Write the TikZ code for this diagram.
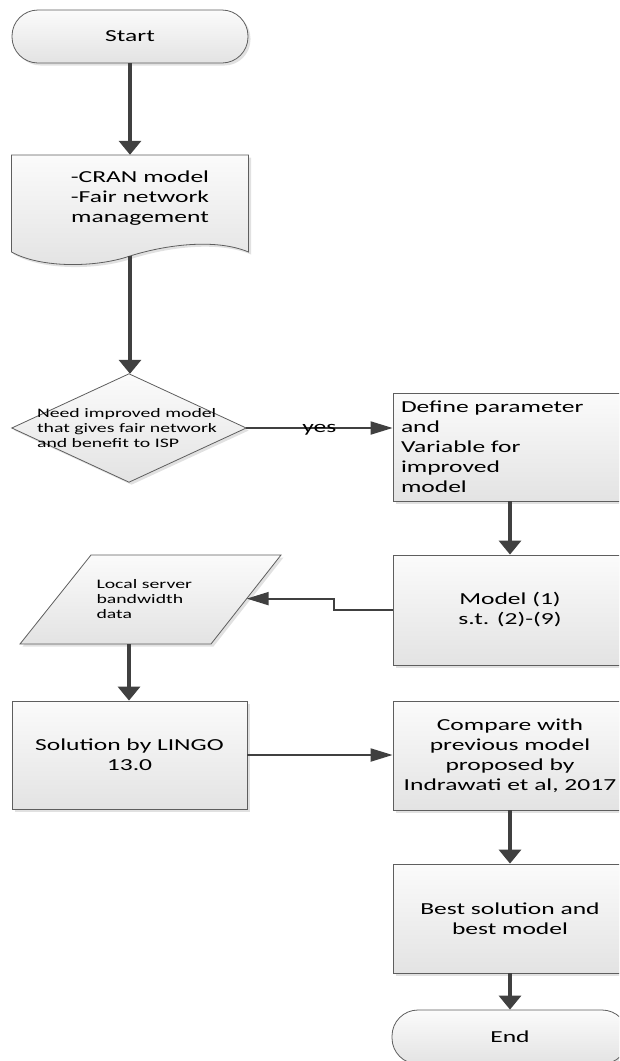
\documentclass[tikz,border=0pt]{standalone}
\usepackage{fontspec}
\setmainfont{Carlito}[FakeStretch=1.52]
\usetikzlibrary{arrows.meta,shadows,calc}
\definecolor{arr}{HTML}{404040}
\definecolor{edgec}{HTML}{5E5E5E}
\definecolor{ftop}{HTML}{FBFBFB}
\definecolor{fbot}{HTML}{E3E3E3}
\definecolor{shd}{HTML}{C4C4C4}
\newcommand\fmain{\fontsize{16.8}{20}\selectfont}
\newcommand\fsmall{\fontsize{13}{15}\selectfont}
\tikzset{
  shapestyle/.style={draw=edgec, line width=0.8pt, top color=ftop, bottom color=fbot,
    drop shadow={shadow xshift=2.5pt, shadow yshift=-2.5pt, fill=shd}},
  boxstyle/.style={shapestyle, rectangle, minimum width=234pt, minimum height=108pt,
    inner sep=2pt, align=center, font=\fmain},
  termstyle/.style={shapestyle, rectangle, rounded corners=26pt, minimum width=236pt,
    minimum height=53pt, font=\fmain},
  varr/.style={draw=arr, line width=3.3pt, -{Triangle[length=14pt,width=22pt]}},
  harr/.style={draw=arr, line width=2pt, -{Triangle[length=22pt,width=13pt]}},
  ghost/.style={inner sep=0pt, draw=none},
}
\begin{document}
\begin{tikzpicture}[x=1pt,y=-1pt]
\useasboundingbox (0,0) rectangle (619,1061);
\clip (0,0) rectangle (619,1061);

% Start
\node[termstyle] (start) at (130,36.5) {Start};

% Document shape
\path[shapestyle] (11.5,155) -- (248.5,155) -- (248.5,252)
  .. controls (215,238) and (165,245) .. (130,256)
  .. controls (95,268) and (40,268) .. (11.5,252) -- cycle;
\node[ghost, minimum width=237pt, minimum height=101pt] (doc) at (130,205.5) {};
\node[font=\fmain, align=center] (doctext) at (140,198) {-CRAN model\\-Fair network\\management};

\draw[varr] (start.south) -- (start.south |- doc.north);

% Decision
\node[ghost, minimum width=234pt, minimum height=108pt] (dia) at (129,428) {};
\path[shapestyle] (dia.north) -- (dia.east) -- (dia.south) -- (dia.west) -- cycle;
\node[font=\fsmall, align=left] (diatext) at (127,428) {Need improved model\\that gives fair network\\and benefit to ISP};

\draw[varr] (doc.south) -- (doc.south |- dia.north);

% Define
\node[boxstyle, text width=218pt, align=left, inner sep=8pt] (def) at (510,447)
  {Define parameter\\and\\Variable for\\improved\\model};
\draw[harr] (dia.east) -- (dia.east -| def.west)
  node[pos=0.5, font=\fmain, inner sep=0pt, anchor=base, yshift=-4.5pt] (yeslbl) {yes};

% Model
\node[boxstyle, minimum height=110pt] (model) at (510,610) {Model (1)\\s.t. (2)-(9)};
\draw[varr] (def.south) -- (model.north);

% Local server data (parallelogram)
\coordinate (p1) at (91,555);
\coordinate (p2) at (281,555);
\coordinate (p3) at (211,644);
\coordinate (p4) at (20,644);
\path[shapestyle] (p1) -- (p2) -- (p3) -- (p4) -- cycle;
\node[font=\fsmall, align=left, anchor=west] (lsd) at (93,599) {Local server\\bandwidth\\data};
\coordinate (lsdin) at ($(p2)!0.49!(p3)$);
\coordinate (lsdb) at (129,644);
\draw[harr] (model.west) -- ++(-59,0) |- (lsdin);

% Solution
\node[boxstyle, minimum width=235pt] (sol) at (129.5,755) {Solution by LINGO\\13.0};
\draw[varr] (lsdb) -- (lsdb |- sol.north);

% Compare
\node[boxstyle, minimum height=109pt] (comp) at (510,755.5)
  {Compare with\\previous model\\proposed by\\Indrawati et al, 2017};
\draw[harr] (sol.east) -- (sol.east -| comp.west);

% Best
\node[boxstyle, minimum height=109pt] (best) at (510,918.5) {Best solution and\\best model};
\draw[varr] (comp.south) -- (best.north);

% End
\node[termstyle, minimum height=54pt] (end) at (510,1037) {End};
\draw[varr] (best.south) -- (end.north);
\end{tikzpicture}
\end{document}
